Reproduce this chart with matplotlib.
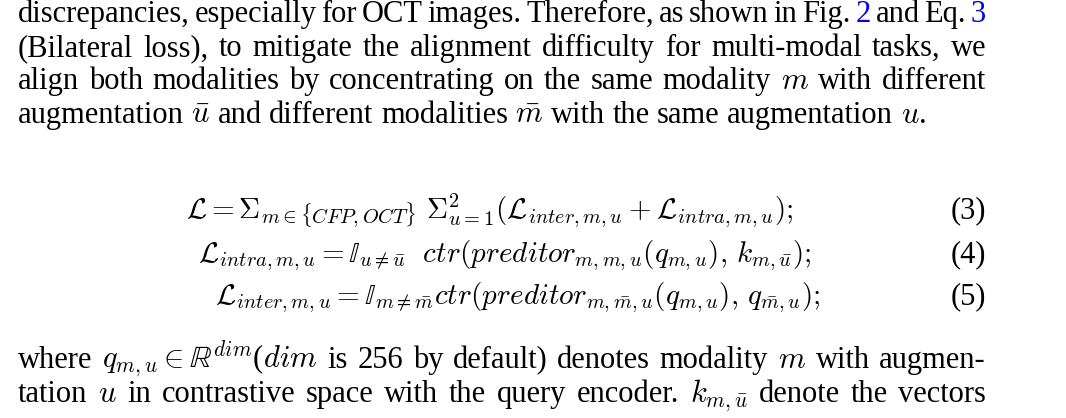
import matplotlib
matplotlib.use("Agg")
import matplotlib.pyplot as plt

W, H = 1066, 418
plt.rcParams['font.family'] = ['Liberation Serif', 'DejaVu Serif']
plt.rcParams['mathtext.fontset'] = 'cm'
FS = 22
EQFS = 21
BLUE = '#0000ee'

para1 = [
    [("discrepancies, especially for OCT images. Therefore, as shown in Fig.", 'k'), ("2", BLUE), ("and Eq.", 'k'), ("3", BLUE)],
    [("(Bilateral loss), to mitigate the alignment difficulty for multi-modal tasks, we", 'k')],
    [(r"align both modalities by concentrating on the same modality $m$ with different", 'k')],
    [(r"augmentation $\bar{u}$ and different modalities $\bar{m}$ with the same augmentation $u$.", 'k')],
]
para2 = [
    [(r"where $q_{m,u}\in\mathbb{R}^{dim}$($dim$ is 256 by default) denotes modality $m$ with augmen-", 'k')],
    [(r"tation $u$ in contrastive space with the query encoder. $k_{m,\bar{u}}$ denote the vectors", 'k')],
]
equations = [
    r"$\mathcal{L} = \Sigma_{m\in\{CFP,OCT\}}\ \Sigma_{u=1}^{2}(\mathcal{L}_{inter,m,u}+\mathcal{L}_{intra,m,u});$",
    r"$\mathcal{L}_{intra,m,u} = \mathbb{I}_{u\neq\bar{u}}\ \ ctr(preditor_{m,m,u}(q_{m,u}),\, k_{m,\bar{u}});$",
    r"$\mathcal{L}_{inter,m,u} = \mathbb{I}_{m\neq\bar{m}} ctr(preditor_{m,\bar{m},u}(q_{m,u}),\, q_{\bar{m},u});$",
]
eq_numbers = ["(3)", "(4)", "(5)"]

fig = plt.figure(figsize=(W/100, H/100), dpi=100)
fig.patch.set_facecolor('white')
r = fig.canvas.get_renderer()

def put(x, y, s, color='k', ha='left', fs=FS):
    return fig.text(x/W, 1-y/H, s, color=color, ha=ha, va='baseline', fontsize=fs)

def justify(tokens, y, x0=18, x1=986, last=False):
    words = []
    for s, c in tokens:
        for w in s.split(' '):
            words.append((w, c))
    texts = [put(0, y, w, c) for w, c in words]
    widths = [t.get_window_extent(r).width for t in texts]
    gap = 7.5 if last else (x1 - x0 - sum(widths)) / (len(words) - 1)
    x = x0
    for t, w in zip(texts, widths):
        t.set_x(x/W)
        x += w + gap

ys1 = [22, 56, 89, 123]
for i, (toks, y) in enumerate(zip(para1, ys1)):
    justify(toks, y, last=(i == 3))
ys2 = [368, 402]
for toks, y in zip(para2, ys2):
    justify(toks, y)

eq_x = [186, 198, 215]
eq_y = [218, 262, 304]
for s, n, x, y in zip(equations, eq_numbers, eq_x, eq_y):
    put(x, y, s, fs=EQFS)
    put(986, y, n, ha='right')

fig.savefig("out.png", dpi=100, facecolor='white')
